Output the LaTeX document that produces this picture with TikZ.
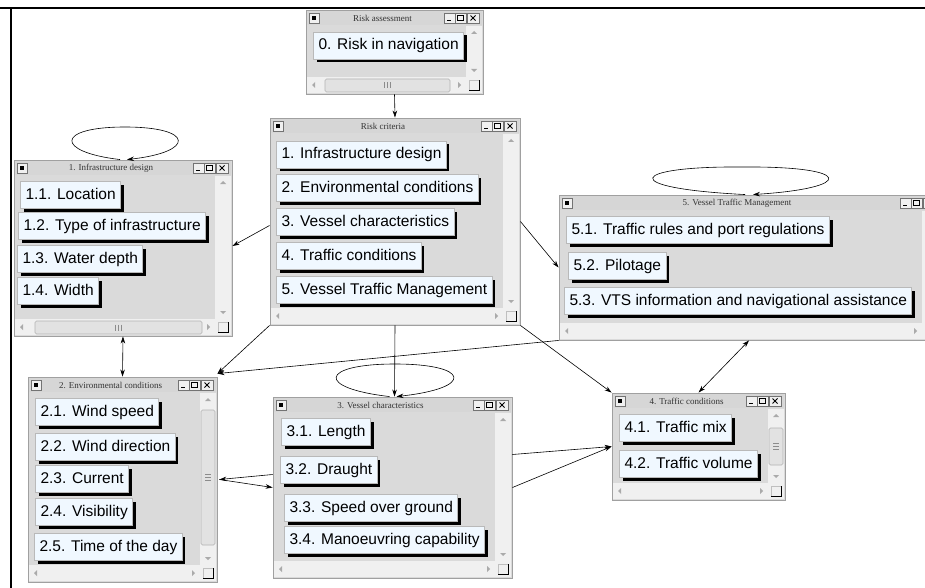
\documentclass[tikz,border=0pt]{standalone}
\usepackage{fontspec}
\setmainfont{Liberation Sans}
\newfontfamily\wintitlefont{Liberation Serif}
\usetikzlibrary{arrows.meta,fit,shadows}

\definecolor{winbg}{RGB}{218,218,218}
\definecolor{titlebg}{RGB}{214,214,214}
\definecolor{winborder}{RGB}{160,160,160}
\definecolor{scrollbg}{RGB}{240,240,240}
\definecolor{btnfill}{RGB}{240,248,255}
\definecolor{btncell}{RGB}{185,185,185}
\definecolor{arrowgray}{RGB}{170,170,170}
\definecolor{thumbfill}{RGB}{226,226,226}

\tikzset{
  btn/.style={anchor=north west, fill=btnfill, draw=btncell, line width=1pt,
    inner xsep=5pt, inner ysep=0pt, minimum height=27pt,
    text height=11.5pt, text depth=3.5pt,
    font=\fontsize{15.5}{18}\selectfont,
    drop shadow={shadow xshift=3pt, shadow yshift=-3pt, fill=black, opacity=1}},
  winframe/.style={draw=winborder, line width=0.9pt, inner sep=0pt},
  ctrlbox/.style={fill=scrollbg, draw=black!55, line width=0.6pt},
  titletext/.style={font=\wintitlefont\fontsize{9}{10}\selectfont, text=black!80, inner sep=0pt},
  arr/.style={-{Stealth[length=7pt,width=4.5pt]}, line width=0.6pt},
  dbl/.style={{Stealth[length=7pt,width=4.5pt]}-{Stealth[length=7pt,width=4.5pt]}, line width=0.6pt},
  thumb/.style={fill=thumbfill, draw=black!30, line width=0.6pt, rounded corners=1.5pt},
}

\newcommand\appwin[6]{%
  \pgfmathsetmacro\Ww{#4-#2}%
  \pgfmathsetmacro\Wh{#5-#3}%
  \begin{scope}[shift={(#2,#3)}]
    \fill[winbg] (0,0) rectangle (\Ww,\Wh);
    \fill[titlebg] (1,1) rectangle (\Ww-1,15);
    \draw[ctrlbox] (3,3) rectangle (13,13);
    \fill[black] (6,6) rectangle (10,10);
    \draw[ctrlbox] (\Ww-39,3) rectangle (\Ww-28,13);
    \draw[ctrlbox] (\Ww-28,3) rectangle (\Ww-17,13);
    \draw[ctrlbox] (\Ww-16,3) rectangle (\Ww-4,13);
    \draw[line width=1.4pt] (\Ww-36,10.5) -- (\Ww-32,10.5);
    \draw[line width=0.8pt] (\Ww-25.5,5.5) rectangle (\Ww-19.5,10.5);
    \draw[line width=0.8pt] (\Ww-12.5,5.5) -- (\Ww-7.5,10.5) (\Ww-12.5,10.5) -- (\Ww-7.5,5.5);
    \node[titletext] at (\Ww/2-12,8.5) {#6};
    \fill[scrollbg] (\Ww-17,16) rectangle (\Ww-1,\Wh-17);
    \fill[arrowgray] (\Ww-12,24) -- (\Ww-6,24) -- (\Ww-9,21) -- cycle;
    \fill[arrowgray] (\Ww-12,\Wh-25) -- (\Ww-6,\Wh-25) -- (\Ww-9,\Wh-22) -- cycle;
    \fill[scrollbg] (1,\Wh-17) rectangle (\Ww-17,\Wh-1);
    \fill[arrowgray] (9,\Wh-12) -- (9,\Wh-6) -- (6,\Wh-9) -- cycle;
    \fill[arrowgray] (\Ww-25,\Wh-12) -- (\Ww-25,\Wh-6) -- (\Ww-22,\Wh-9) -- cycle;
    \fill[scrollbg] (\Ww-17,\Wh-17) rectangle (\Ww-1,\Wh-1);
    \draw[black!25, line width=0.6pt] (\Ww-14,\Wh-14) rectangle (\Ww-4,\Wh-4);
    \draw[black, line width=0.9pt] (\Ww-14,\Wh-4) -- (\Ww-4,\Wh-4) -- (\Ww-4,\Wh-14);
  \end{scope}
  \coordinate (#1-nw) at (#2,#3);
  \coordinate (#1-se) at (#4,#5);
  \node[winframe, fit=(#1-nw)(#1-se)] (#1) {};
}

% horizontal thumb: x1 x2 y1 y2
\newcommand\hthumb[4]{%
  \draw[thumb] (#1,#3) rectangle (#2,#4);
  \pgfmathsetmacro\cx{(#1+#2)/2}\pgfmathsetmacro\cy{(#3+#4)/2}%
  \draw[black!45, line width=0.6pt] (\cx-3,\cy-3) -- (\cx-3,\cy+3) (\cx,\cy-3) -- (\cx,\cy+3) (\cx+3,\cy-3) -- (\cx+3,\cy+3);
}
% vertical thumb: x1 x2 y1 y2
\newcommand\vthumb[4]{%
  \draw[thumb] (#1,#3) rectangle (#2,#4);
  \pgfmathsetmacro\cx{(#1+#2)/2}\pgfmathsetmacro\cy{(#3+#4)/2}%
  \draw[black!45, line width=0.6pt] (\cx-3,\cy-3) -- (\cx+3,\cy-3) (\cx-3,\cy) -- (\cx+3,\cy) (\cx-3,\cy+3) -- (\cx+3,\cy+3);
}

\begin{document}
\begin{tikzpicture}[x=1pt, y=-1pt]
\useasboundingbox (0,0) rectangle (925,588);
\clip (0,0) rectangle (925,588);
\fill[white] (0,0) rectangle (925,588);

% outer frame lines
\draw[line width=2pt] (0,8) -- (925,8);
\draw[line width=1.2pt] (11,8) -- (11,588);

% windows
\appwin{w0}{306}{10}{483}{94}{Risk assessment}
\appwin{crit}{270}{118}{520}{325}{Risk criteria}
\appwin{w1}{14}{160}{232}{336}{1. Infrastructure design}
\appwin{w5}{559}{195}{939}{340}{5. Vessel Traffic Management}
\appwin{w2}{28}{377}{217}{582}{2. Environmental conditions}
\appwin{w3}{273}{397}{512}{578}{3. Vessel characteristics}
\appwin{w4}{612}{393}{785}{500}{4. Traffic conditions}

\hthumb{325}{450}{79}{92}
\hthumb{35}{202}{321}{334}
\vthumb{201}{215}{410}{545}
\vthumb{769}{783}{428}{465}

% buttons
\node[btn] (b0) at (313,32) {0. Risk in navigation};

\node[btn] (c1) at (276,141) {1. Infrastructure design};
\node[btn] (c2) at (276,174) {2. Environmental conditions};
\node[btn] (c3) at (276,208) {3. Vessel characteristics};
\node[btn] (c4) at (276,242) {4. Traffic conditions};
\node[btn] (c5) at (276,276) {5. Vessel Traffic Management};

\node[btn] (b11) at (20,181) {1.1. Location};
\node[btn] (b12) at (18,212) {1.2. Type of infrastructure};
\node[btn] (b13) at (17,245) {1.3. Water depth};
\node[btn] (b14) at (17,277) {1.4. Width};

\node[btn] (b51) at (566,216) {5.1. Traffic rules and port regulations};
\node[btn] (b52) at (568,252) {5.2. Pilotage};
\node[btn] (b53) at (564,287) {5.3. VTS information and navigational assistance};

\node[btn] (b21) at (35,398) {2.1. Wind speed};
\node[btn] (b22) at (35,433) {2.2. Wind direction};
\node[btn] (b23) at (35,465) {2.3. Current};
\node[btn] (b24) at (35,498) {2.4. Visibility};
\node[btn] (b25) at (34,533) {2.5. Time of the day};

\node[btn] (b31) at (281,418) {3.1. Length};
\node[btn] (b32) at (280,456) {3.2. Draught};
\node[btn] (b33) at (284,494) {3.3. Speed over ground};
\node[btn] (b34) at (284,526) {3.4. Manoeuvring capability};

\node[btn] (b41) at (619,414) {4.1. Traffic mix};
\node[btn] (b42) at (619,450) {4.2. Traffic volume};

% connectors
\draw[arr] (w0.south) -- (crit.north);
\draw[arr] ([yshift=-4pt]crit.west) -- ([yshift=2pt]w1.east);
\draw[arr] (crit.east) -- (w5.west);
\draw[arr] (crit.south west) -- ([yshift=3pt]w2.north east);
\draw[arr] (w5.south west) -- ([yshift=3pt]w2.north east);
\draw[arr] (crit.south) -- ([xshift=2pt]w3.north);
\draw[arr] (crit.south east) -- (w4.north west);
\draw[dbl] (w5.south) -- (w4.north);
\draw[dbl] (w1.south) -- (w2.north);
\draw[arr] ([yshift=13pt]w3.west) -- ([xshift=2pt]w2.east);
\draw[arr] ([xshift=2pt]w2.east) -- (w3.west);
\draw[arr] ([yshift=33pt]w3.east) -- (w4.west);
\draw[arr] (w3.east) -- (w4.west);

% self loops
\draw[arr] ([xshift=-3pt]w1.north) .. controls (55,152) and (55,127) .. (125,127)
  .. controls (195,127) and (195,152) .. ([xshift=4pt]w1.north);
\draw[arr] ([xshift=-4pt]w5.north) .. controls (615,188) and (630,166) .. (742,167)
  .. controls (855,166) and (855,188) .. ([xshift=4pt]w5.north);
\draw[arr] ([xshift=-3pt]w3.north) .. controls (315,388) and (320,364) .. (395,364)
  .. controls (470,364) and (475,388) .. ([xshift=4pt]w3.north);
\end{tikzpicture}
\end{document}
